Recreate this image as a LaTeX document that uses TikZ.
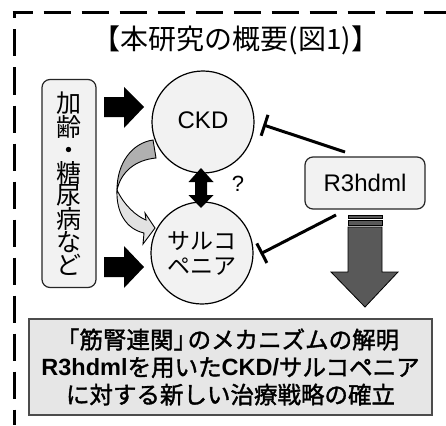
\documentclass[tikz,border=0pt]{standalone}
\usepackage{fontspec}
\setmainfont{Liberation Sans}
\newfontfamily\jp{Noto Sans CJK JP}
\newfontfamily\jpb{Noto Sans CJK JP}[FakeBold=1.6]
\newfontfamily\ar{Liberation Sans}
\usetikzlibrary{arrows.meta}
\definecolor{boxfill}{HTML}{F2F2F2}
\definecolor{botfill}{HTML}{E6E6E6}
\definecolor{bigarrow}{HTML}{595959}
\definecolor{bandDark}{HTML}{B0B0B0}
\definecolor{bandLight}{HTML}{E2E2E2}
\begin{document}
\begin{tikzpicture}[x=1pt,y=-1pt,
  circ/.style={circle, draw=black, line width=1.2pt, fill=boxfill, minimum size=102pt, inner sep=0pt},
  rbox/.style={draw=black!85, line width=1.2pt, fill=boxfill, rounded corners=8pt, inner sep=0pt},
  blockarrow/.style={fill=black},
  inhib/.style={line width=3pt, -{Bar[width=22pt,line width=3pt]}},
  framedash/.style={line width=3pt, dash pattern=on 27pt off 11pt},
  bigarr/.style={draw=black, line width=0.8pt, fill=bigarrow},
  band/.style={draw=black, line width=0.9pt},
]
\useasboundingbox (0,0) rectangle (446,425);
\fill[white] (0,0) rectangle (446,425);
% dashed frame
\draw[framedash, dash phase=7pt] (12.5,13) -- (446,13);
\draw[framedash, dash phase=20pt] (14,11.5) -- (14,425);
% title
\node[font=\jp\fontsize{28}{30}\selectfont] (title) at (236,40) {【本研究の概要(図1)】};
% curved arrow (CKD -> sarcopenia)
\draw[band, fill=bandDark] (153,140) .. controls (132,143) and (117,163) .. (117,190)
   .. controls (121,172) and (135,160) .. (156,158) -- cycle;
\draw[band, fill=bandLight] (117,190) .. controls (124,205) and (136,216) .. (146,220)
   -- (145,213) -- (155,228) -- (143,244) -- (144,233)
   .. controls (126,229) and (116,212) .. (117,190) -- cycle;
% circles
\node[circ, font=\ar\fontsize{24}{28}\selectfont] (ckd) at (203,122) {\raisebox{3pt}{CKD}};
\node[circ, font=\jp\fontsize{23}{25}\selectfont, align=center] (sar) at (202,253) {サルコ\\ペニア};
% left cause box
\node[rbox, minimum width=54pt, minimum height=208pt, align=center,
      font=\jp\fontsize{25}{22.7}\selectfont] (cause) at (69,183.5)
      {加\\齢\\・\\糖\\尿\\病\\な\\ど};
% R3hdml box
\node[rbox, minimum width=120pt, minimum height=52pt, font=\ar\fontsize{24}{28}\selectfont] (r3) at (365,183) {R3hdml};
% block arrows
\fill[blockarrow] (104,97) -- (124,97) -- (124,87) -- (144,107) -- (124,128) -- (124,117) -- (104,117) -- cycle;
\fill[blockarrow] (104,257) -- (124,257) -- (124,246) -- (144,267) -- (124,288) -- (124,277) -- (104,277) -- cycle;
% double arrow
\fill[blockarrow] (201,168) -- (213.5,182) -- (207,182) -- (207,195) -- (213.5,195) -- (201,208)
   -- (188.5,195) -- (195,195) -- (195,182) -- (188.5,182) -- cycle;
\node[font=\ar\fontsize{22}{26}\selectfont] (q) at (238,184) {?};
% inhibition
\coordinate (i1s) at (345,152);
\coordinate (i2s) at (336,215);
\draw[inhib, shorten >=9pt] (i1s) -- (ckd.east);
\draw[inhib, shorten >=8pt] (i2s) -- (sar.-5);
% big gray arrow
\draw[bigarr] (348,215) rectangle (382,218);
\draw[bigarr] (348,220) rectangle (382,225);
\draw[bigarr] (348,227) -- (382,227) -- (382,272) -- (398,272) -- (365,307) -- (331,272) -- (348,272) -- cycle;
% result box
\node[draw=black!70, line width=1.2pt, fill=botfill, minimum width=403pt, minimum height=96pt,
      inner sep=0pt, align=center, font=\jpb\fontsize{23.5}{27.5}\selectfont] (res) at (230.5,367)
  {\kern-0.25em「筋腎連関」\kern-0.4em のメカニズムの解明\\{\ar\bfseries R3hdml}を用いた{\ar\bfseries CKD/}サルコペニア\\に対する新しい治療戦略の確立};
\end{tikzpicture}
\end{document}
